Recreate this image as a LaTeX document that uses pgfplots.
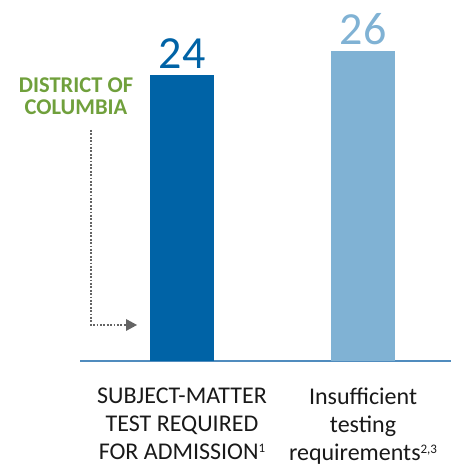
\documentclass[border=0pt]{standalone}
\usepackage{pgfplots}
\pgfplotsset{compat=1.18}
\usepackage{fontspec}
\setmainfont{Carlito}
\usetikzlibrary{arrows.meta}
\definecolor{darkblue}{RGB}{0,99,166}
\definecolor{lightblue}{RGB}{128,178,212}
\definecolor{dcgreen}{RGB}{112,160,60}
\definecolor{axisblue}{RGB}{80,140,190}
\definecolor{arrowgray}{RGB}{100,100,100}
\begin{document}
\begin{tikzpicture}[x=1pt,y=1pt]
\useasboundingbox (0,0) rectangle (451,468);
\begin{axis}[
  at={(80pt,107pt)}, anchor=south west,
  scale only axis, width=371pt, height=357.6pt,
  xmin=-0.5635, xmax=1.486, ymin=0, ymax=30,
  axis x line*=bottom, axis y line=none,
  x axis line style={draw=axisblue, line width=1.2pt, -},
  xtick={0,1},
  xticklabels={{SUBJECT-MATTER\\TEST REQUIRED\\FOR ADMISSION{\fontsize{13}{13}\selectfont\raisebox{7pt}{1}}},{Insufficient\\testing\\requirements{\fontsize{13}{13}\selectfont\raisebox{7pt}{2,3}}}},
  major tick length=0pt,
  xticklabel style={align=center, font=\fontsize{24}{28}\selectfont, text=black!90, anchor=north, yshift=-23pt},
  ytick=\empty,
  ybar, bar width=64pt,
  /pgf/number format/assume math mode=true,
  nodes near coords,
  clip=false,
]
\addplot[fill=darkblue, draw=none, bar shift=0pt,
  every node near coord/.append style={text=darkblue, font=\fontsize{46}{46}\selectfont, anchor=south, inner sep=1pt, yshift=5pt}]
  coordinates {(0,24)};
\addplot[fill=lightblue, draw=none, bar shift=0pt,
  every node near coord/.append style={text=lightblue, font=\fontsize{46}{46}\selectfont, anchor=south, inner sep=1pt, yshift=5pt}]
  coordinates {(1,26)};
\end{axis}
\node[anchor=base, inner sep=0pt, text depth=0pt, text=dcgreen, font=\bfseries\fontsize{22.5}{24}\selectfont] at (76,375) {DISTRICT OF};
\node[anchor=base, inner sep=0pt, text depth=0pt, text=dcgreen, font=\bfseries\fontsize{22.5}{24}\selectfont] at (76,353) {COLUMBIA};
\draw[arrowgray, line width=2pt, dash pattern=on 1.8pt off 1.6pt] (91,338) -- (91,143) -- (127,143);
\fill[arrowgray] (126,149) -- (137,143) -- (126,137) -- cycle;
\end{tikzpicture}
\end{document}
